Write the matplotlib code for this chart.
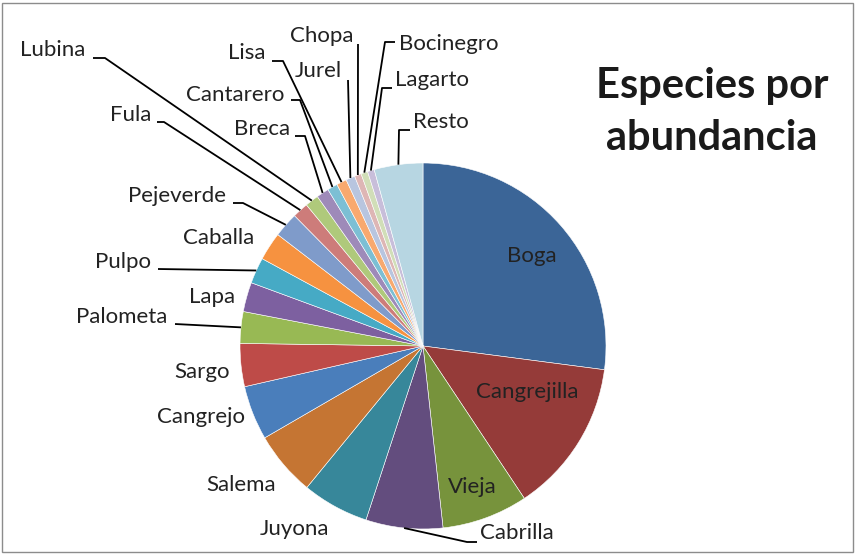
import matplotlib
matplotlib.use("Agg")
import matplotlib.pyplot as plt
from matplotlib.patches import Rectangle
import numpy as np

# ---- data ----
species = ["Boga", "Cangrejilla", "Vieja", "Cabrilla", "Juyona", "Salema", "Cangrejo",
           "Sargo", "Palometa", "Lapa", "Pulpo", "Caballa", "Pejeverde", "Fula", "Lubina",
           "Breca", "Cantarero", "Lisa", "Jurel", "Chopa", "Bocinegro", "Lagarto", "Resto"]
values = [27.1, 13.6, 7.6, 6.8, 5.9, 5.7, 4.8, 3.8, 2.8, 2.6, 2.3, 2.5, 2.2, 1.4, 1.2,
          1.1, 0.9, 0.9, 0.8, 0.6, 0.6, 0.6, 4.3]
colors = ["#3B6597", "#953B39", "#77933C", "#634D7E", "#37879A", "#C57533", "#4A7EBB",
          "#BE4B48", "#98B954", "#7D60A0", "#46AAC5", "#F69240", "#7F9BCA", "#CD7C7A",
          "#AFC97B", "#9E8AB9", "#7CBFD4", "#F8A96F", "#B8C5DF", "#DEB6B5", "#D1DEB8",
          "#C8BEDA", "#B7D6E2"]
title = "Especies por\nabundancia"

W, H = 856, 554
fig = plt.figure(figsize=(W / 100, H / 100), dpi=100)
ax = fig.add_axes([0, 0, 1, 1])

cx, cy, R = 423, H - 346, 183
wedges, _ = ax.pie(values, colors=colors, startangle=90, counterclock=False,
                   center=(cx, cy), radius=R, frame=True,
                   wedgeprops=dict(edgecolor="white", linewidth=0.4))
ax.set_xlim(0, W)
ax.set_ylim(0, H)
ax.set_aspect("equal")
ax.axis("off")

FONT = "Lato"
FS = 16

def Y(y):
    return H - y

def arc_mid(w):
    a = np.deg2rad((w.theta1 + w.theta2) / 2)
    return w.center[0] + w.r * np.cos(a), w.center[1] + w.r * np.sin(a)

# label layout: (text x, text y, ha, leader points) in pixel coords (y down)
layout = {
    "Boga": (532, 256, "center", None),
    "Cangrejilla": (527, 392, "center", None),
    "Vieja": (472, 487, "center", None),
    "Cabrilla": (480, 533, "left", [(477, 542), (467, 542)]),
    "Juyona": (294, 529, "center", None),
    "Salema": (241, 485, "center", None),
    "Cangrejo": (201, 417, "center", None),
    "Sargo": (202, 372, "center", None),
    "Palometa": (122, 317, "center", [(175, 324)]),
    "Lapa": (212, 297, "center", None),
    "Pulpo": (123, 262, "center", [(158, 269)]),
    "Caballa": (219, 238, "center", None),
    "Pejeverde": (177, 196, "center", [(233, 203), (243, 203)]),
    "Fula": (131, 115, "center", [(157, 122), (164, 122)]),
    "Lubina": (53, 50, "center", [(93, 58), (105, 58)]),
    "Breca": (262, 129, "center", [(295, 136), (305, 136)]),
    "Cantarero": (235, 95, "center", [(291, 100), (300, 100)]),
    "Lisa": (247, 53, "center", [(272, 61), (283, 61)]),
    "Jurel": (318, 71, "center", [(348, 80)]),
    "Chopa": (322, 36, "center", [(358, 44)]),
    "Bocinegro": (449, 44, "center", [(395, 42), (385, 42)]),
    "Lagarto": (432, 80, "center", [(392, 88), (382, 88)]),
    "Resto": (441, 122, "center", [(410, 130), (399, 130)]),
}

for w, name in zip(wedges, species):
    tx, ty, ha, pts = layout[name]
    ax.text(tx, Y(ty), name, ha=ha, va="center", fontsize=FS, family=FONT,
            color="#222222")
    if pts:
        xs = [p[0] for p in pts]
        ys = [Y(p[1]) for p in pts]
        mx, my = arc_mid(w)
        xs.append(mx)
        ys.append(my)
        ax.plot(xs, ys, color="black", lw=1.3, solid_capstyle="butt")

ax.text(712, Y(112), title, ha="center", va="center", fontsize=30,
        fontweight="bold", family=FONT, color="#1a1a1a", linespacing=1.42)

ax.add_patch(Rectangle((2.5, 2.5), W - 5, H - 5, fill=False, edgecolor="#8c8c8c",
                       lw=1.0))

fig.savefig("out.png", dpi=100)
